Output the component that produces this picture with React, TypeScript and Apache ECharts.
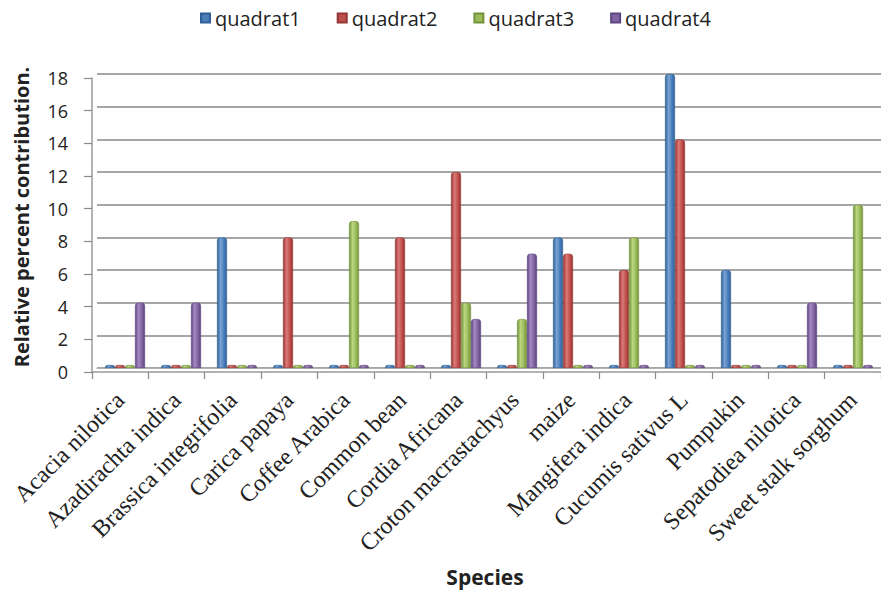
import React, { useEffect, useRef } from "react";
import * as echarts from "echarts";

const species = [
  "Acacia nilotica",
  "Azadirachta indica",
  "Brassica integrifolia",
  "Carica papaya",
  "Coffee Arabica",
  "Common bean",
  "Cordia Africana",
  "Croton macrastachyus",
  "maize",
  "Mangifera indica",
  "Cucumis sativus L",
  "Pumpukin",
  "Sepatodiea nilotica",
  "Sweet stalk sorghum",
];

const quadrat1 = [0, 0, 8, 0, 0, 0, 0, 0, 8, 0, 18, 6, 0, 0];
const quadrat2 = [0, 0, 0, 8, 0, 8, 12, 0, 7, 6, 14, 0, 0, 0];
const quadrat3 = [0, 0, 0, 0, 9, 0, 4, 3, 0, 8, 0, 0, 0, 10];
const quadrat4 = [4, 4, 0, 0, 0, 0, 3, 7, 0, 0, 0, 0, 4, 0];

const seriesNames = ["quadrat1", "quadrat2", "quadrat3", "quadrat4"];
const seriesData = [quadrat1, quadrat2, quadrat3, quadrat4];
const baseColors = ["#4A7EBB", "#C0504D", "#9BBB59", "#8064A2"];
const darkColors = ["#2f5f96", "#933532", "#74923a", "#5d4680"];
const lightColors = ["#7aa3d6", "#dd7a77", "#bcd684", "#a58bc4"];

const yTicks = [0, 2, 4, 6, 8, 10, 12, 14, 16, 18];

export default function App() {
  const ref = useRef<HTMLDivElement>(null);

  useEffect(() => {
    if (!ref.current) return;
    const chart = echarts.init(ref.current, null, { renderer: "svg" });
    const cylinder = (i: number) =>
      new echarts.graphic.LinearGradient(0, 0, 1, 0, [
        { offset: 0, color: darkColors[i] },
        { offset: 0.35, color: lightColors[i] },
        { offset: 0.7, color: baseColors[i] },
        { offset: 1, color: darkColors[i] },
      ]);

    const yMin = yTicks[0];
    const yMax = yTicks[yTicks.length - 1];

    chart.setOption({
      animation: false,
      backgroundColor: "#ffffff",
      legend: {
        top: 3,
        left: 195,
        itemWidth: 9,
        itemHeight: 9,
        itemGap: 36,
        icon: "rect",
        textStyle: { fontFamily: "Open Sans", fontSize: 20, color: "#222" },
        data: seriesNames.map((n, i) => ({ name: n, itemStyle: { color: baseColors[i] } })),
      },
      grid: [
        // front axes: ticks and labels
        { left: 92, right: 0, top: 78, bottom: 224 },
        // back wall and bars, set slightly back in depth
        { left: 97, right: -5, top: 74, bottom: 228 },
      ],
      xAxis: [
        {
          type: "category",
          gridIndex: 0,
          data: species,
          axisLine: { show: true, lineStyle: { color: "#9a9a9a", width: 1.5 } },
          axisTick: { show: true, length: 7, lineStyle: { color: "#8a8a8a", width: 1.2 } },
          axisLabel: {
            rotate: 45,
            interval: 0,
            margin: 24,
            fontFamily: "Liberation Serif",
            fontSize: 24,
            color: "#222",
          },
        },
        {
          type: "category",
          gridIndex: 1,
          data: species,
          axisLine: { show: true, lineStyle: { color: "#b0b0b0", width: 1.2 } },
          axisTick: { show: false },
          axisLabel: { show: false },
        },
      ],
      yAxis: [
        {
          type: "value",
          gridIndex: 0,
          min: yMin,
          max: yMax,
          interval: 2,
          axisLine: { show: true, lineStyle: { color: "#9a9a9a", width: 1.5 } },
          axisTick: { show: true, length: 8, lineStyle: { color: "#8a8a8a", width: 1.2 } },
          axisLabel: {
            fontFamily: "Open Sans",
            fontSize: 18,
            color: "#222",
            margin: 24,
          },
          splitLine: { show: false },
        },
        {
          type: "value",
          gridIndex: 1,
          min: yMin,
          max: yMax,
          interval: 2,
          axisLine: { show: false },
          axisTick: { show: false },
          axisLabel: { show: false },
          splitLine: { show: true, lineStyle: { color: "#a6a6a6", width: 2 } },
        },
      ],
      series: seriesData.map((d, i) => ({
        name: seriesNames[i],
        type: "bar",
        xAxisIndex: 1,
        yAxisIndex: 1,
        data: d,
        barWidth: 10,
        barGap: "0%",
        barMinHeight: 3,
        itemStyle: {
          color: cylinder(i),
          borderColor: darkColors[i],
          borderWidth: 0.6,
          borderRadius: [3, 3, 0, 0],
        },
      })),
      graphic: [
        {
          type: "text",
          x: 485,
          y: 577,
          style: {
            text: "Species",
            fontFamily: "Open Sans",
            fontWeight: "bold",
            fontSize: 21,
            fill: "#222",
            align: "center",
            verticalAlign: "middle",
          },
        },
        {
          type: "text",
          x: 21,
          y: 217,
          rotation: Math.PI / 2,
          style: {
            text: "Relative percent contribution.",
            fontFamily: "Open Sans",
            fontWeight: "bold",
            fontSize: 20,
            fill: "#222",
            align: "center",
            verticalAlign: "middle",
          },
        },
      ],
    });

    return () => chart.dispose();
  }, []);

  return <div ref={ref} style={{ width: 881, height: 596, position: "absolute", left: 0, top: 0 }} />;
}
